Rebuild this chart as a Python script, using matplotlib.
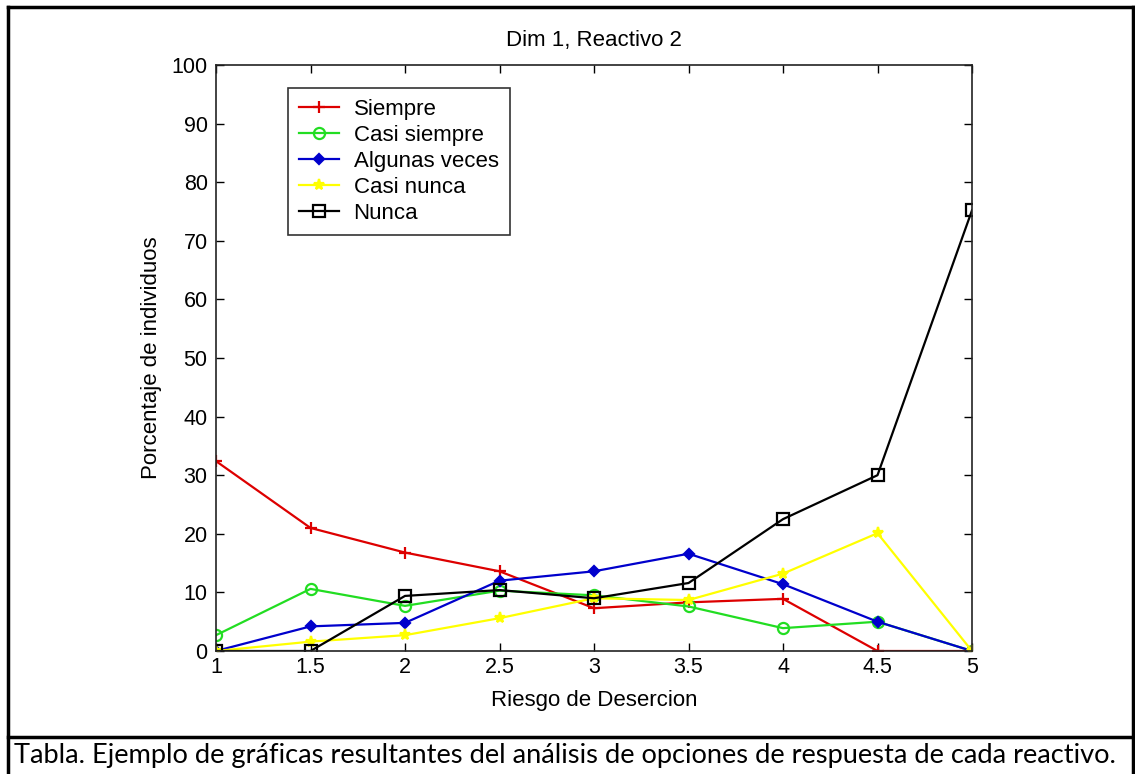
import matplotlib
matplotlib.use("Agg")
import matplotlib.pyplot as plt
from matplotlib.lines import Line2D

x = [1, 1.5, 2, 2.5, 3, 3.5, 4, 4.5, 5]
siempre = [32.4, 21.0, 16.8, 13.6, 7.3, 8.3, 8.9, 0, 0]
casi_siempre = [2.7, 10.6, 7.7, 10.3, 9.5, 7.6, 3.9, 5.0, 0]
algunas_veces = [0, 4.2, 4.8, 12.0, 13.6, 16.6, 11.4, 5.0, 0]
casi_nunca = [0, 1.6, 2.7, 5.6, 9.0, 8.7, 13.2, 20.1, 0]
nunca = [0, 0, 9.4, 10.4, 9.0, 11.6, 22.5, 30.0, 75.2]

labels = ["Siempre", "Casi siempre", "Algunas veces", "Casi nunca", "Nunca"]
xticks = [1, 1.5, 2, 2.5, 3, 3.5, 4, 4.5, 5]
xtick_labels = ["1", "1.5", "2", "2.5", "3", "3.5", "4", "4.5", "5"]
yticks = list(range(0, 101, 10))

plt.rcParams['font.family'] = ['Liberation Sans', 'DejaVu Sans']

W, H = 1135, 774
fig = plt.figure(figsize=(W / 100, H / 100), dpi=100)

def fx(px):
    return px / W

def fy(py):
    return 1 - py / H

ax = fig.add_axes([fx(216), fy(651), fx(972) - fx(216), fy(65) - fy(651)])

series = [siempre, casi_siempre, algunas_veces, casi_nunca, nunca]
colors = ["#dd0000", "#22dd22", "#0000cc", "#ffff00", "#000000"]
markers = ["+", "o", "D", "*", "s"]
msizes = [8, 8, 5, 8, 8]
mfc = [None, "none", "#0000cc", "#ffff00", "none"]
for ys, c, m, ms, fc, lab in zip(series, colors, markers, msizes, mfc, labels):
    kw = dict(color=c, marker=m, markersize=ms, linewidth=1.6, label=lab,
              markeredgewidth=1.6)
    if fc is not None:
        kw["markerfacecolor"] = fc
    ax.plot(x, ys, **kw)

ax.set_xlim(1, 5)
ax.set_ylim(0, 100)
ax.set_xticks(xticks)
ax.set_xticklabels(xtick_labels)
ax.set_yticks(yticks)
ax.tick_params(direction="in", length=6, width=1, top=True, right=True,
               labelsize=15.5, colors="black")
ax.tick_params(axis="y", pad=6)
ax.tick_params(axis="x", pad=4)
for s in ax.spines.values():
    s.set_linewidth(1.2)
    s.set_color("#222222")

ax.set_title("Dim 1, Reactivo 2", fontsize=16, pad=14)
ax.set_xlabel("Riesgo de Desercion", fontsize=16, labelpad=9)
ax.set_ylabel("Porcentaje de individuos", fontsize=16, labelpad=7)

leg = ax.legend(loc="upper left", bbox_to_anchor=((288 - 216) / 756, (651 - 88) / 586),
                borderaxespad=0, fontsize=16, frameon=True, fancybox=False,
                edgecolor="black", handlelength=1.8, labelspacing=0.22,
                borderpad=0.5, handletextpad=0.65)
leg.get_frame().set_linewidth(1.2)

# outer borders
lw = 2.5
fig.add_artist(Line2D([fx(8), fx(1133)], [fy(7), fy(7)], color="black", lw=lw, transform=fig.transFigure))
fig.add_artist(Line2D([fx(8), fx(8)], [fy(7), fy(774)], color="black", lw=lw, transform=fig.transFigure))
fig.add_artist(Line2D([fx(1133), fx(1133)], [fy(7), fy(774)], color="black", lw=lw, transform=fig.transFigure))
fig.add_artist(Line2D([fx(8), fx(1133)], [fy(737), fy(737)], color="black", lw=lw, transform=fig.transFigure))

fig.text(fx(14), fy(756), "Tabla. Ejemplo de gráficas resultantes del análisis de opciones de respuesta de cada reactivo.",
         family="Lato", fontsize=19.6, ha="left", va="center")

fig.savefig("out.png", dpi=100)
